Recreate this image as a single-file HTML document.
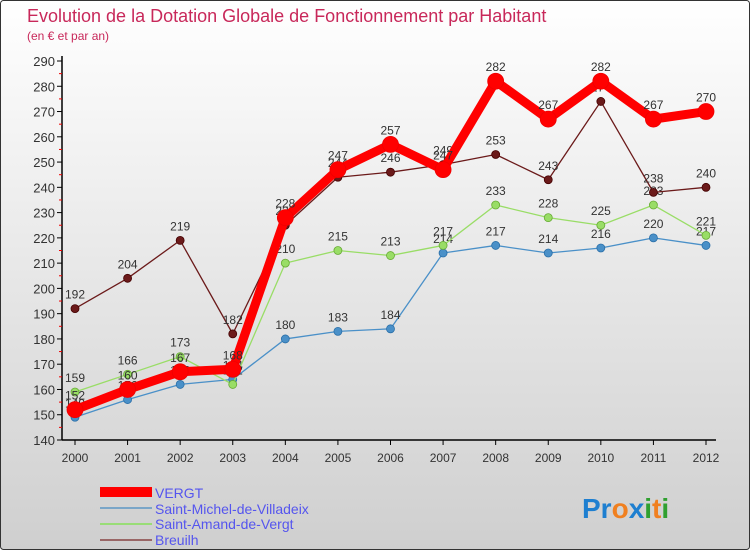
<!DOCTYPE html>
<html><head><meta charset="utf-8"><style>
body{margin:0;width:750px;height:550px;overflow:hidden;font-family:"Liberation Sans",sans-serif}
</style></head><body>
<svg id="c" width="750" height="550" xmlns="http://www.w3.org/2000/svg">
<defs><linearGradient id="bg" x1="0" y1="0" x2="0" y2="1"><stop offset="0" stop-color="#ffffff"/><stop offset="1" stop-color="#cfcfcf"/></linearGradient></defs>
<rect x="0.5" y="0.5" width="749" height="549" rx="3" fill="url(#bg)" stroke="#333"/>
<text x="27" y="22" font-size="18" fill="#c8285a">Evolution de la Dotation Globale de Fonctionnement par Habitant</text>
<text x="27" y="40" font-size="12" fill="#c8285a">(en € et par an)</text>
<g id="axes"></g><g id="series"></g>
<g>
<rect x="100" y="487" width="52" height="10" fill="#ff0000"/>
<text x="155" y="498" font-size="14" fill="#5555ee">VERGT</text>
<line x1="100" y1="508" x2="152" y2="508" stroke="#7aa6c8" stroke-width="2"/>
<text x="155" y="514" font-size="14" fill="#5555ee">Saint-Michel-de-Villadeix</text>
<line x1="100" y1="524" x2="152" y2="524" stroke="#99dd77" stroke-width="2"/>
<text x="155" y="529" font-size="14" fill="#5555ee">Saint-Amand-de-Vergt</text>
<line x1="100" y1="540" x2="152" y2="540" stroke="#996666" stroke-width="2"/>
<text x="155" y="545" font-size="14" fill="#5555ee">Breuilh</text>
</g>
<text x="582" y="518" font-size="28" font-weight="bold"><tspan fill="#1e7fd0">Pr</tspan><tspan fill="#f08020">o</tspan><tspan fill="#1e7fd0">x</tspan><tspan fill="#30a030">i</tspan><tspan fill="#f08020">t</tspan><tspan fill="#30a030">i</tspan></text>
</svg>
<script>
const years=[2000,2001,2002,2003,2004,2005,2006,2007,2008,2009,2010,2011,2012];
const yTicks=[140,150,160,170,180,190,200,210,220,230,240,250,260,270,280,290];
const vergt=[152,160,167,168,228,247,257,247,282,267,282,267,270];
const michel=[149,156,162,164,180,183,184,214,217,214,216,220,217];
const amand=[159,166,173,162,210,215,213,217,233,228,225,233,221];
const breuilh=[192,204,219,182,225,244,246,249,253,243,274,238,240];
const NS="http://www.w3.org/2000/svg";
const X=i=>75+i*(706-75)/12;
const Y=v=>440-(v-140)*(440-61)/150;
function el(t,a,p){const e=document.createElementNS(NS,t);for(const k in a)e.setAttribute(k,a[k]);p.appendChild(e);return e;}
const ax=document.getElementById('axes');
const yl=el('line',{x1:62,y1:56,x2:62,y2:440,stroke:'#000','stroke-width':1.5},ax);


const xl=el('line',{x1:62,y1:440,x2:716,y2:440,stroke:'#000','stroke-width':1.5},ax);


yTicks.forEach((v,i)=>{
  el('line',{x1:57,y1:Y(v),x2:62,y2:Y(v),stroke:'#000'},ax);
  if(i<yTicks.length-1)el('line',{x1:59,y1:Y(v+5),x2:62,y2:Y(v+5),stroke:'#e00'},ax);
  const t=el('text',{x:55,y:Y(v)+5,'text-anchor':'end','font-size':13,fill:'#333'},ax);
  t.textContent=v;
  
  
});
years.forEach((y,i)=>{
  el('line',{x1:X(i),y1:440,x2:X(i),y2:445,stroke:'#000'},ax);
  const t=el('text',{x:X(i),y:462,'text-anchor':'middle','font-size':12,fill:'#333'},ax);
  t.textContent=y;
  
  
});
const sg=document.getElementById('series');
function draw(data,name,color,w,r,stroke){
  const g=el('g',{},sg);
  
  
  const pl=el('polyline',{points:data.map((v,i)=>X(i)+','+Y(v)).join(' '),fill:'none',stroke:color,'stroke-width':w,'stroke-linejoin':'round'},g);
  
  
  data.forEach((v,i)=>{
    const c=el('circle',{cx:X(i),cy:Y(v),r:r,fill:color,stroke:stroke,'stroke-width':0.8},g);
    
    
    const t=el('text',{x:X(i),y:Y(v)-10,'text-anchor':'middle','font-size':12,fill:'#333'},g);
    t.textContent=v;
    
    
  });
}
draw(michel,'saint-michel','#4a90c8',1.3,4,'#2a6fa8');
draw(amand,'saint-amand','#99dd66',1.3,4,'#66aa33');
draw(breuilh,'breuilh','#6b1a1a',1.3,4,'#400');
draw(vergt,'vergt','#ff0000',9,8,'#e00');
</script>
</body></html>
